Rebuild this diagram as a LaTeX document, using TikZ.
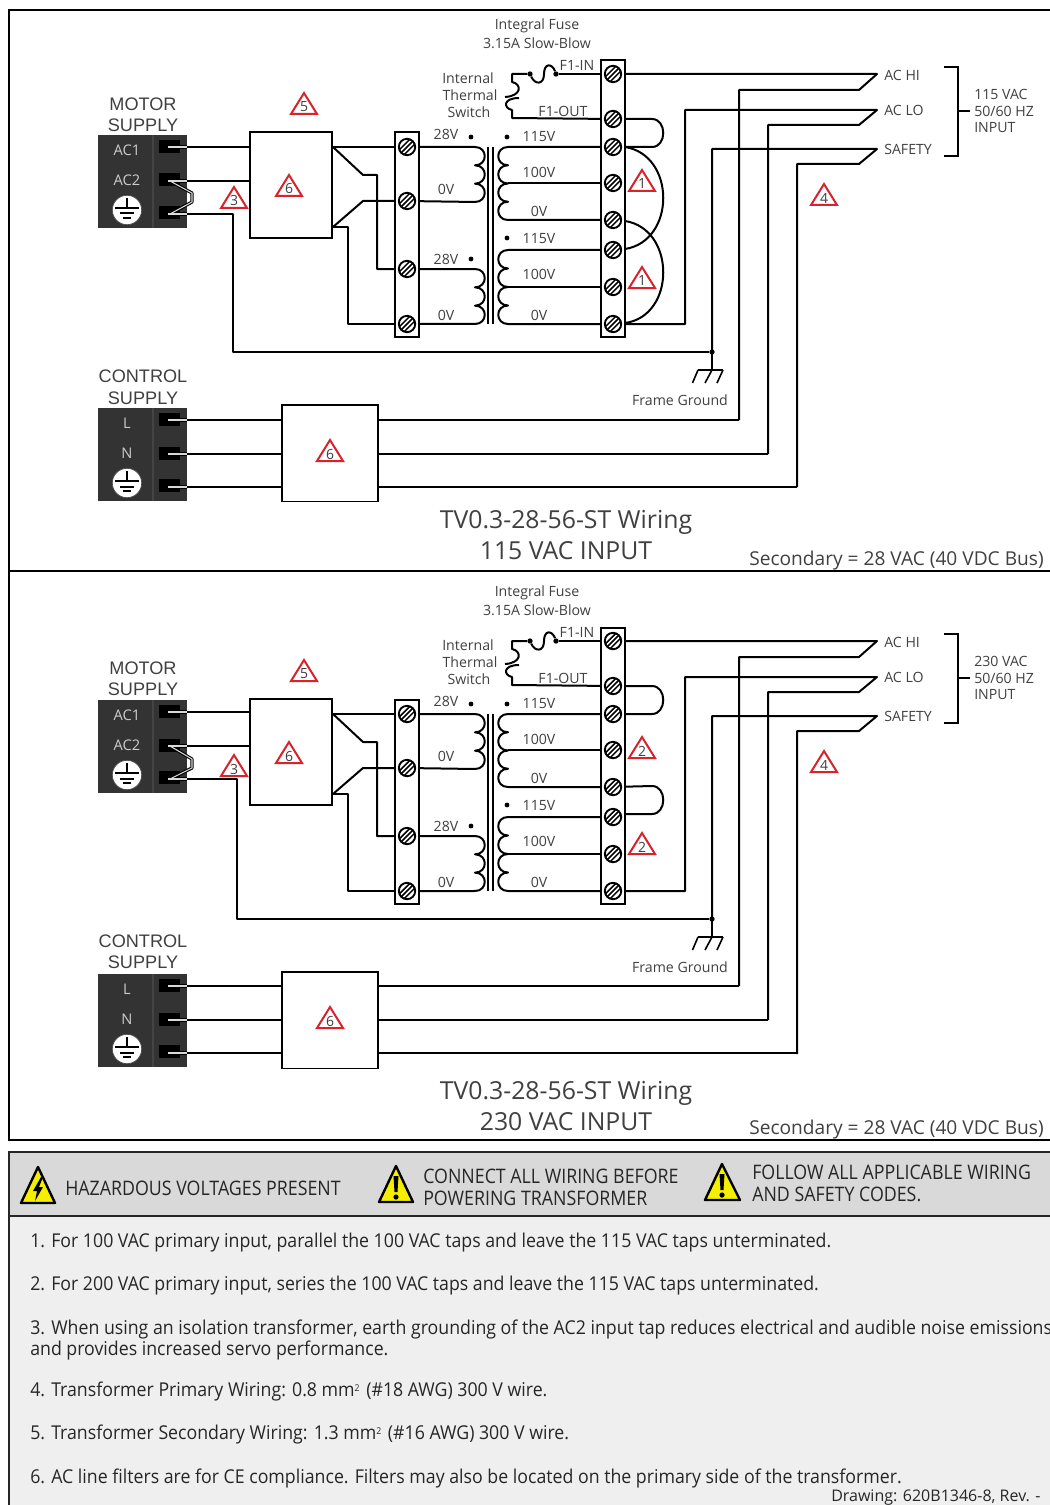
\documentclass[tikz,border=0pt]{standalone}
\usepackage{fontspec}
\setmainfont{Open Sans}
\newfontfamily\labfont{Liberation Sans}
\usetikzlibrary{calc}
\definecolor{txt}{HTML}{404040}
\definecolor{blockgray}{HTML}{333333}
\definecolor{divgray}{HTML}{444444}
\definecolor{headgray}{HTML}{D9D9D9}
\definecolor{bodygray}{HTML}{EFEFEF}
\definecolor{warnred}{HTML}{D8232A}
\definecolor{warnyellow}{HTML}{F4EE00}
\pgfdeclarelayer{back}
\pgfdeclarelayer{wires}
\pgfsetlayers{back,wires,main}
\tikzset{
  wire/.style={draw=black,line width=1.5pt,line join=round},
  strip/.style={draw=black,line width=1.5pt,fill=white,rectangle,inner sep=0pt,anchor=north west},
  filterbox/.style={draw=black,line width=1.3pt,fill=white,rectangle,inner sep=0pt,anchor=north west},
  screw/.style={circle,draw=black,line width=1.4pt,fill=white,minimum size=12.3pt,inner sep=0pt,
    path picture={
      \foreach \d in {-3.6,0,3.6}{
        \draw[black,line width=1.1pt] ($(path picture bounding box.center)+(\d pt-6pt,-6pt)$) -- ($(path picture bounding box.center)+(\d pt+6pt,6pt)$);
      }}},
  small/.style={font=\fontsize{10.6pt}{12pt}\selectfont,text=txt,inner sep=0pt},
  smallleft/.style={small,anchor=west},
  head/.style={font=\labfont\fontsize{13.6pt}{15pt}\selectfont,text=txt,inner sep=0pt},
  blk/.style={font=\fontsize{11pt}{12pt}\selectfont,text=black!20,inner sep=0pt},
  title/.style={font=\fontsize{18.6pt}{22pt}\selectfont,text=txt,inner sep=0pt},
  subt/.style={font=\fontsize{14.35pt}{18pt}\selectfont,text=txt,inner sep=0pt,anchor=west},
  dotn/.style={circle,fill=black,inner sep=0pt,minimum size=3.6pt},
  trinum/.style={font=\fontsize{10.5pt}{12pt}\selectfont,text=txt,inner sep=0pt},
  tri/.style={draw=warnred,line width=1.5pt,fill=white,line join=miter},
  warnhead/.style={font=\addfontfeature{FakeStretch=0.89}\fontsize{15pt}{18pt}\selectfont,text=black!85,inner sep=0pt,anchor=west},
  note/.style={font=\addfontfeature{FakeStretch=0.93}\fontsize{14.3pt}{17pt}\selectfont,text=black!85,inner sep=0pt,anchor=west},
  yellowtri/.style={draw=black,line width=1.8pt,fill=warnyellow,line join=round},
}
\newcommand{\tinytwo}{{\fontsize{7pt}{8pt}\selectfont\raisebox{3.6pt}{2}}\kern1.5pt}
% warning triangle: name, apex x, apex y, number
\newcommand{\warntri}[4]{%
  \draw[tri] (#2,#3) -- ++(13,21) -- ++(-26,0) -- cycle;
  \node[trinum] (#1) at (#2,{#3+14}) {#4};
}
% terminal block: prefix, top y, label1, label2
\newcommand{\termblock}[4]{%
  \begin{pgfonlayer}{back}
    \fill[blockgray] (98,#2) rectangle (187,{#2+93});
    \draw[divgray,line width=.8pt] (153,#2) -- (153,{#2+93});
    \foreach \k in {5,38.5,71}{\fill[black] (159,{#2+\k}) rectangle (180,{#2+\k+13});}
  \end{pgfonlayer}
  \node[blk] (#1la) at (127,{#2+15}) {#3};
  \node[blk] (#1lb) at (127,{#2+45}) {#4};
  \node[circle,fill=white,draw=black!70,line width=.5pt,minimum size=22pt,inner sep=0pt] (#1gnd) at (127,{#2+75}) {};
  \draw[black,line width=1.5pt] (#1gnd.center) ++(0,-12) -- ++(0,10) ++(-12,0) -- ++(24,0);
  \draw[black,line width=1.5pt] (#1gnd.center) ++(-7,3.5) -- ++(14,0);
  \draw[black,line width=1.5pt] (#1gnd.center) ++(-4,8) -- ++(8,0);
  \coordinate (#1ta) at (170,{#2+12});
  \coordinate (#1tb) at (170,{#2+46});
  \coordinate (#1tc) at (170,{#2+79});
}
% two-tone wire stub inside a block
\newcommand{\stub}[1]{%
  \draw[black,line width=2.4pt] (#1) ++(-2,0) -- ++(19,0);
  \draw[white!85!black,line width=.8pt] (#1) ++(-2,0) -- ++(19,0);
}
% panel: prefix, adjustment of where the long verticals end
\newcommand{\panelbody}[2]{%
  \node[strip,minimum width=18pt,minimum height=153pt] (#1sl) at (393.5,131.5) {};
  \node[strip,minimum width=18.5pt,minimum height=207pt] (#1sr) at (599.5,59.5) {};
  \node[screw] (#1a1) at (407,147) {};
  \node[screw] (#1a2) at (407,201) {};
  \node[screw] (#1a3) at (407,269) {};
  \node[screw] (#1a4) at (407,324) {};
  \node[screw] (#1b1) at (613,74) {};
  \node[screw] (#1b2) at (613,119) {};
  \node[screw] (#1b3) at (613,147) {};
  \node[screw] (#1b4) at (613,183) {};
  \node[screw] (#1b5) at (613,220) {};
  \node[screw] (#1b6) at (613,250) {};
  \node[screw] (#1b7) at (613,287) {};
  \node[screw] (#1b8) at (613,324) {};
  \node[filterbox,minimum width=61.5pt,minimum height=79.5pt] (#1fa) at (249,131) {};
  \node[dotn,minimum size=4pt] (#1fi) at (530,74) {};
  \node[dotn,minimum size=4pt] (#1fo) at (556,74) {};
  \begin{pgfonlayer}{wires}
    % fuse and thermal switch
    \draw[wire] (#1b1) -- (#1fo);
    \draw[wire] (#1fi) .. controls (535,85) and (544,85) .. (544,74) .. controls (544,63) and (552,63) .. (#1fo);
    \draw[wire] (#1fi) -- (512,74) -- (512,82) .. controls (522,84) and (522,96) .. (505,97);
    \draw[wire] (519,98) .. controls (503,98) and (503,108) .. (512,110) -- (512,118) -- (#1b2);
    % core
    \draw[wire,line width=1.2pt] (488,147) -- (488,324);
    \draw[wire,line width=1.2pt] (493,147) -- (493,324);
    % secondary coils
    \draw[wire] (#1a1) -- (475,147) \foreach \n in {1,2,3}{ .. controls +(13,0) and +(13,0) .. ++(0,18.33)} -- (#1a2);
    \draw[wire] (#1a3) -- (475,269) \foreach \n in {1,2,3}{ .. controls +(13,0) and +(13,0) .. ++(0,18.33)} -- (#1a4);
    % primary coils
    \draw[wire] (#1b3) -- (508,147) \foreach \n in {1,2,3,4}{ .. controls +(-13,0) and +(-13,0) .. ++(0,18.25)} -- (#1b5);
    \draw[wire] (#1b4) -- (508,183);
    \draw[wire] (#1b6) -- (508,250) \foreach \n in {1,2,3,4}{ .. controls +(-13,0) and +(-13,0) .. ++(0,18.5)} -- (#1b8);
    \draw[wire] (#1b7) -- (508,287);
    % filter to secondary strip
    \draw[wire] (#1fa.north east |- #1a1) -- (#1a1);
    \draw[wire] (333,147) -- (363,175) -- (377,175) -- (377,269) -- (#1a3);
    \draw[wire] (333,227) -- (363,201) -- (#1a2);
    \draw[wire] (333,227) -- (348,227) -- (348,324) -- (#1a4);
    % input side
    \draw[wire] (#1b1) -- (877,74) -- (859,90) -- (739,90) -- (739,{420+#2});
    \draw[wire] (#1b8) -- (685,324) -- (685,110) -- (877,110) -- (859,125) -- (768,125) -- (768,{454+#2});
    \draw[wire] (712,352) -- (712,149) -- (877,149) -- (859,164) -- (797,164) -- (797,487);
    % frame ground
    \draw[wire,line width=1.2pt] (712,352) -- (712,370);
    \draw[wire,line width=1.2pt] (698,370) -- (723,370);
    \draw[wire,line width=1.2pt] (698,370) -- (692.5,383) (712,370) -- (705,383) (723,370) -- (717,383);
    % bracket
    \draw[wire,line join=miter] (944,67) -- (958,67) -- (958,156) -- (944,156);
    \draw[wire] (958,111) -- (970,111);
  \end{pgfonlayer}
  \node[circle,fill=black,inner sep=0pt,minimum size=4pt] (#1fgd) at (712,352) {};
  \node[filterbox,minimum width=72pt,minimum height=72.5pt] (#1fb) at (281,404) {};
  \node[small] (#1t1) at (537,25.5) {Integral Fuse};
  \node[small] (#1t2) at (537,43) {3.15A Slow-Blow};
  \node[small] (#1t3) at (468,78) {Internal};
  \node[small] (#1t4) at (470,95) {Thermal};
  \node[small] (#1t5) at (469,112) {Switch};
  \node[small] (#1t6) at (577,65) {F1-IN};
  \node[small] (#1t7) at (563,111) {F1-OUT};
  \node[small] (#1t8) at (446,134) {28V};
  \node[dotn] (#1d1) at (471,137) {};
  \node[dotn] (#1d2) at (507,137) {};
  \node[small] (#1t9) at (539,137) {115V};
  \node[small] (#1t10) at (539,172) {100V};
  \node[small] (#1t11) at (539,211) {0V};
  \node[small] (#1t12) at (446,189) {0V};
  \node[dotn] (#1d3) at (507,238) {};
  \node[small] (#1t13) at (539,239) {115V};
  \node[small] (#1t14) at (446,259) {28V};
  \node[dotn] (#1d4) at (471,259) {};
  \node[small] (#1t15) at (539,274) {100V};
  \node[small] (#1t16) at (446,315) {0V};
  \node[small] (#1t17) at (539,315) {0V};
  \node[smallleft] (#1t18) at (884,75) {AC HI};
  \node[smallleft] (#1t19) at (884,110) {AC LO};
  \node[smallleft] (#1t20) at (884,149) {SAFETY};
  \node[smallleft] (#1t21) at (974,111) {50/60 HZ};
  \node[smallleft] (#1t22) at (974,128) {INPUT};
  \node[small] (#1t23) at (680,400) {Frame Ground};
  \warntri{#1w5}{304}{93}{5}
  \warntri{#1w6}{289}{175}{6}
  \warntri{#1w4}{824}{184}{4}
  \warntri{#1w7}{330}{440}{6}
}
\begin{document}
\begin{tikzpicture}[x=0.75pt,y=-0.75pt]
\useasboundingbox (0,0) rectangle (1049,1505);
\clip (0,0) rectangle (1049,1505);
\begin{pgfonlayer}{back}
  \fill[white] (0,0) rectangle (1049,1505);
  \draw[black,line width=1.5pt] (9,10) rectangle (1060,1140);
  \draw[black,line width=1.5pt] (9,571) -- (1060,571);
  \fill[bodygray] (9,1152) rectangle (1060,1510);
  \fill[headgray] (9,1152) rectangle (1060,1216);
  \draw[black!85,line width=2pt] (1060,1152) -- (9,1152) -- (9,1510);
  \draw[black!85,line width=1.5pt] (9,1216) -- (1060,1216);
\end{pgfonlayer}

%% ---------- TOP PANEL ----------
\panelbody{p}{0}
\node[smallleft] (pv) at (974,94) {115 VAC};
\warntri{pw1}{642}{170}{1}
\warntri{pw1b}{642}{267}{1}
\warntri{pw3}{234}{187}{3}
\begin{pgfonlayer}{wires}
  \draw[wire] (pb2) -- (652,119) .. controls (667,119) and (667,147) .. (652,147) -- (pb3);
  \draw[wire] (pb3) -- (625,147) .. controls (676,155) and (676,241) .. (625,249) -- (pb6);
  \draw[wire] (pb5) -- (625,221) .. controls (676,229) and (676,316) .. (625,323) -- (pb8);
\end{pgfonlayer}
\termblock{pm}{135}{AC1}{AC2}
\termblock{pc}{408}{L}{N}
\begin{pgfonlayer}{wires}
  \draw[wire] (pmta) -- (pmta -| pfa.west);
  \draw[wire] (pmtb) -- (pmtb -| pfa.west);
  \draw[wire,line width=2.4pt] (pmtb) -- (192,193) -- (192,202) -- (pmtc);
  \draw[wire] (pmtc) -- (233,214) -- (233,352) -- (pfgd);
  \draw[wire] (pcta) -- (pcta -| pfb.west);
  \draw[wire] (pctb) -- (pctb -| pfb.west);
  \draw[wire] (pctc) -- (pctc -| pfb.west);
  \draw[wire] (pfb.east |- pcta) -- (739,420);
  \draw[wire] (pfb.east |- pctb) -- (768,454);
  \draw[wire] (pfb.east |- pctc) -- (797,487);
\end{pgfonlayer}
\stub{pmta}\stub{pmtb}\stub{pmtc}\stub{pcta}\stub{pctb}\stub{pctc}
\draw[white!85!black,line width=.8pt] (pmtb) -- (192,193) -- (192,202) -- (pmtc);
\node[head] (pm1) at (143,104) {MOTOR};
\node[head] (pm2) at (143,125) {SUPPLY};
\node[head] (pc1) at (143,376) {CONTROL};
\node[head] (pc2) at (143,398) {SUPPLY};
\node[title] (ptt1) at (566,522) {TV0.3-28-56-ST Wiring};
\node[title] (ptt2) at (566,550.5) {115 VAC INPUT};
\node[subt] (pst) at (749,560.5) {Secondary = 28 VAC (40 VDC Bus)};

%% ---------- BOTTOM PANEL ----------
\begin{scope}[shift={(0,567)}]
\panelbody{q}{-1}
\node[smallleft] (qv) at (974,94) {230 VAC};
\warntri{qw2}{642}{170}{2}
\warntri{qw2b}{642}{266}{2}
\warntri{qw3}{234}{188}{3}
\begin{pgfonlayer}{wires}
  \draw[wire] (qb2) -- (652,119) .. controls (667,119) and (667,147) .. (652,147) -- (qb3);
  \draw[wire] (qb5) -- (652,219) .. controls (667,219) and (667,247) .. (652,247) -- (625,247);
\end{pgfonlayer}
\end{scope}
\termblock{qm}{700}{AC1}{AC2}
\termblock{qc}{974}{L}{N}
\begin{pgfonlayer}{wires}
  \draw[wire] (qmta) -- (qmta -| qfa.west);
  \draw[wire] (qmtb) -- (qmtb -| qfa.west);
  \draw[wire,line width=2.4pt] (qmtb) -- (192,759) -- (192,768) -- (qmtc);
  \draw[wire] (qmtc) -- (237,779) -- (237,919) -- (qfgd);
  \draw[wire] (qcta) -- (qcta -| qfb.west);
  \draw[wire] (qctb) -- (qctb -| qfb.west);
  \draw[wire] (qctc) -- (qctc -| qfb.west);
  \draw[wire] (qfb.east |- qcta) -- (739,986);
  \draw[wire] (qfb.east |- qctb) -- (768,1020);
  \draw[wire] (qfb.east |- qctc) -- (797,1053);
\end{pgfonlayer}
\stub{qmta}\stub{qmtb}\stub{qmtc}\stub{qcta}\stub{qctb}\stub{qctc}
\draw[white!85!black,line width=.8pt] (qmtb) -- (192,759) -- (192,768) -- (qmtc);
\node[head] (qm1) at (143,668) {MOTOR};
\node[head] (qm2) at (143,689) {SUPPLY};
\node[head] (qc1) at (143,941) {CONTROL};
\node[head] (qc2) at (143,962) {SUPPLY};
\node[title] (qtt1) at (566,1093) {TV0.3-28-56-ST Wiring};
\node[title] (qtt2) at (566,1121.5) {230 VAC INPUT};
\node[subt] (qst) at (749,1129.5) {Secondary = 28 VAC (40 VDC Bus)};

%% ---------- WARNING HEADER ----------
\draw[yellowtri] (38,1167) -- (55,1203) -- (21,1203) -- cycle;
\fill[black] (41,1177) -- (33,1191) -- (37,1191) -- (35,1201) -- (43,1187) -- (39,1187) -- (43,1177) -- cycle;
\draw[yellowtri] (396,1166) -- (413,1202) -- (379,1202) -- cycle;
\fill[black] (393.5,1176) -- (398.5,1176) -- (397.5,1192) -- (394.5,1192) -- cycle;
\fill[black] (396,1197) circle (2.6);
\draw[yellowtri] (722,1164) -- (740,1200) -- (705,1200) -- cycle;
\fill[black] (719.5,1174) -- (724.5,1174) -- (723.5,1190) -- (720.5,1190) -- cycle;
\fill[black] (722,1195) circle (2.6);
\node[warnhead] (h1) at (65,1188) {HAZARDOUS VOLTAGES PRESENT};
\node[warnhead] (h2) at (423,1176) {CONNECT ALL WIRING BEFORE};
\node[warnhead] (h3) at (423,1198) {POWERING TRANSFORMER};
\node[warnhead] (h4) at (752,1172) {FOLLOW ALL APPLICABLE WIRING};
\node[warnhead] (h5) at (752,1194) {AND SAFETY CODES.};

%% ---------- NOTES ----------
\node[note] (n1) at (30,1243) {1. For 100 VAC primary input, parallel the 100 VAC taps and leave the 115 VAC taps unterminated.};
\node[note] (n2) at (30,1286) {2. For 200 VAC primary input, series the 100 VAC taps and leave the 115 VAC taps unterminated.};
\node[note] (n3) at (30,1329) {3. When using an isolation transformer, earth grounding of the AC2 input tap reduces electrical and audible noise emissions};
\node[note] (n3b) at (30,1350) {and provides increased servo performance.};
\node[note] (n4) at (30,1391) {4. Transformer Primary Wiring: 0.8 mm\tinytwo\ (\#18 AWG) 300 V wire.};
\node[note] (n5) at (30,1434) {5. Transformer Secondary Wiring: 1.3 mm\tinytwo\ (\#16 AWG) 300 V wire.};
\node[note] (n6) at (30,1478) {6. AC line filters are for CE compliance. Filters may also be located on the primary side of the transformer.};
\node[note,font=\fontsize{12pt}{14pt}\selectfont] (n7) at (831,1498) {Drawing: 620B1346-8, Rev. -};
\end{tikzpicture}
\end{document}
